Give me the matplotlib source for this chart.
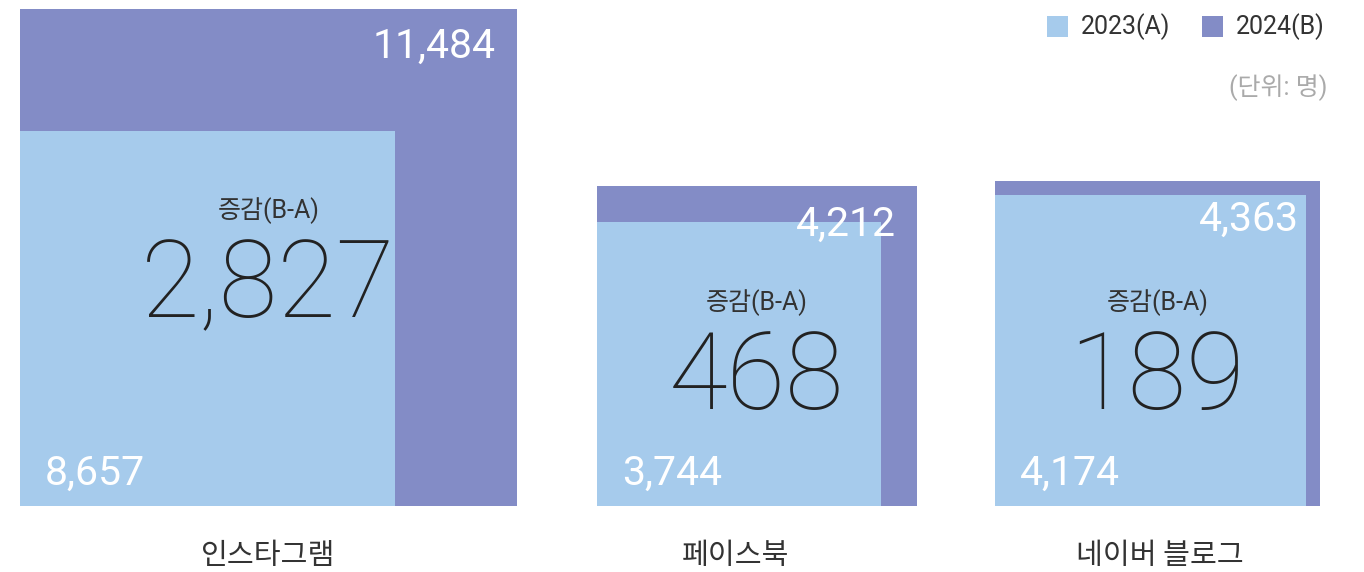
import matplotlib
matplotlib.use("Agg")
import matplotlib.pyplot as plt
from matplotlib.patches import Rectangle

# data (unit: persons)
channels = ["인스타그램", "페이스북", "네이버 블로그"]
val_2023 = [8657, 3744, 4174]   # A
val_2024 = [11484, 4212, 4363]  # B

C_A = "#a6cbec"
C_B = "#838cc6"
TXT = "#222222"
NUM_FONT = ["Roboto", "Noto Sans CJK KR", "DejaVu Sans"]
KR_FONT = ["Noto Sans CJK KR", "DejaVu Sans"]

W, H = 1364, 572
fig = plt.figure(figsize=(W / 100, H / 100), dpi=100)
ax = fig.add_axes([0, 0, 1, 1])
ax.set_xlim(0, W); ax.set_ylim(H, 0); ax.axis("off")

# layout (pixels)
left = [20, 597, 995]
base = 506
max_side = 497
big_base = [317, 409, 409]
label_x = [268, 736, 1160]


def side(v):
    return max_side * (v / max(val_2024)) ** 0.44


for i, name in enumerate(channels):
    a, b = val_2023[i], val_2024[i]
    sb = side(b)
    sa = sb * a / b
    x0 = left[i]
    ax.add_patch(Rectangle((x0, base - sb), sb, sb, color=C_B, lw=0))
    ax.add_patch(Rectangle((x0, base - sa), sa, sa, color=C_A, lw=0))
    cx = x0 + sb / 2
    ax.text(x0 + sb - 21, base - sb + 49, f"{b:,}", color="white", fontsize=29.5,
            family=NUM_FONT, ha="right", va="baseline")
    ax.text(x0 + 25, base - 21, f"{a:,}", color="white", fontsize=29.5,
            family=NUM_FONT, ha="left", va="baseline")
    ax.text(cx, big_base[i], f"{b - a:,}", color=TXT, fontsize=77,
            family=NUM_FONT, fontweight="light", ha="center", va="baseline")
    ax.text(cx, big_base[i] - 99, "증감(B-A)", color="#333333", fontsize=18,
            family=NUM_FONT, ha="center", va="baseline")
    ax.text(label_x[i], 564, name, color="#333333", fontsize=21,
            family=KR_FONT, ha="center", va="baseline")

# legend + unit
for xs, lab, c in [(1047, "2023(A)", C_A), (1202, "2024(B)", C_B)]:
    ax.add_patch(Rectangle((xs, 16), 21, 21, color=c, lw=0))
    ax.text(xs + 34, 34, lab, color="#333333", fontsize=18, family=NUM_FONT,
            ha="left", va="baseline")
ax.text(1327, 95, "(단위: 명)", color="#aaaaaa", fontsize=18, family=NUM_FONT,
        ha="right", va="baseline")

fig.savefig("out.png", dpi=100)
